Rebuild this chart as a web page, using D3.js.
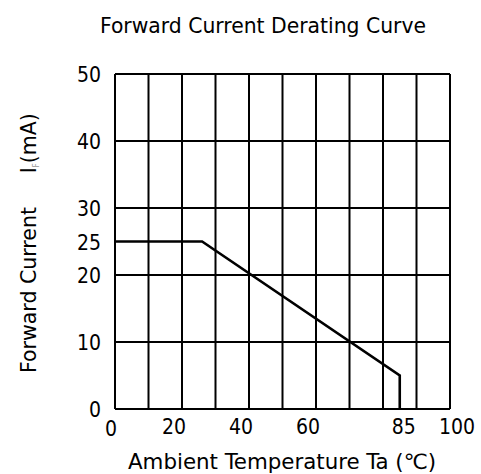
<!DOCTYPE html>
<html>
<head>
<meta charset="utf-8">
<script src="https://cdn.jsdelivr.net/npm/d3@7"></script>
<style>
  body { margin: 0; background: #fff; }
  text { font-family: "DejaVu Sans Condensed", "DejaVu Sans", sans-serif; fill: #000; }
</style>
</head>
<body>
<div id="chart"></div>
<script>
// derating curve
var tempC = [0, 26, 85, 85],
    currentMA = [25, 25, 5, 0];

var xGrid = [0, 10, 20, 30, 40, 50, 60, 70, 80, 90, 100],
    yGrid = [0, 10, 20, 30, 40, 50];
var xTickLabels = [0, 20, 40, 60, 85, 100],
    yTickLabels = [0, 10, 20, 25, 30, 40, 50];

var width = 481, height = 474;
var margin = { left: 115, right: 31, top: 74, bottom: 65 };

var svg = d3.select("#chart").append("svg")
    .attr("width", width)
    .attr("height", height);

var x = d3.scaleLinear().domain([0, 100]).range([margin.left, width - margin.right]);
var y = d3.scaleLinear().domain([0, 50]).range([height - margin.bottom, margin.top]);

// grid
svg.selectAll("line.v").data(xGrid).enter().append("line")
    .attr("x1", function(d) { return x(d); })
    .attr("x2", function(d) { return x(d); })
    .attr("y1", y(0)).attr("y2", y(50))
    .attr("stroke", "#000").attr("stroke-width", 2);

svg.selectAll("line.h").data(yGrid).enter().append("line")
    .attr("x1", x(0)).attr("x2", x(100))
    .attr("y1", function(d) { return y(d); })
    .attr("y2", function(d) { return y(d); })
    .attr("stroke", "#000").attr("stroke-width", 2);

// curve
var line = d3.line()
    .x(function(d, i) { return x(tempC[i]); })
    .y(function(d, i) { return y(currentMA[i]); });

svg.append("path")
    .datum(tempC)
    .attr("d", line)
    .attr("fill", "none")
    .attr("stroke", "#000")
    .attr("stroke-width", 2.6)
    .attr("stroke-linejoin", "miter");

// tick labels
svg.selectAll("text.yt").data(yTickLabels).enter().append("text")
    .attr("x", x(0) - 14)
    .attr("y", function(d) { return y(d) + 8; })
    .attr("text-anchor", "end")
    .style("font-size", "21px")
    .text(function(d) { return d; });

var xShift = { 0: -4, 85: 4, 100: 7 };
svg.selectAll("text.xt").data(xTickLabels).enter().append("text")
    .attr("x", function(d) { return x(d) + (d in xShift ? xShift[d] : -8); })
    .attr("y", function(d) { return y(0) + (d === 0 ? 27 : 25); })
    .attr("text-anchor", "middle")
    .style("font-size", "21px")
    .text(function(d) { return d; });

// titles
svg.append("text")
    .attr("x", 263).attr("y", 33)
    .attr("text-anchor", "middle")
    .attr("textLength", 326)
    .attr("lengthAdjust", "spacingAndGlyphs")
    .style("font-size", "21px")
    .text("Forward Current Derating Curve");

svg.append("text")
    .attr("x", 282).attr("y", 469)
    .attr("text-anchor", "middle")
    .attr("textLength", 308)
    .attr("lengthAdjust", "spacingAndGlyphs")
    .style("font-size", "21px")
    .text("Ambient Temperature Ta (℃)");

var yt = svg.append("text")
    .attr("transform", "translate(36,373) rotate(-90)")
    .style("font-size", "21px");
yt.append("tspan").attr("textLength", 166).attr("lengthAdjust", "spacingAndGlyphs").text("Forward Current");
yt.append("tspan").attr("dx", 34).text("I");
yt.append("tspan").attr("dy", 3).style("font-size", "8px").style("fill", "#999").text("F");
yt.append("tspan").attr("dy", -3).attr("textLength", 50).attr("lengthAdjust", "spacingAndGlyphs").text("(mA)");
</script>
</body>
</html>
